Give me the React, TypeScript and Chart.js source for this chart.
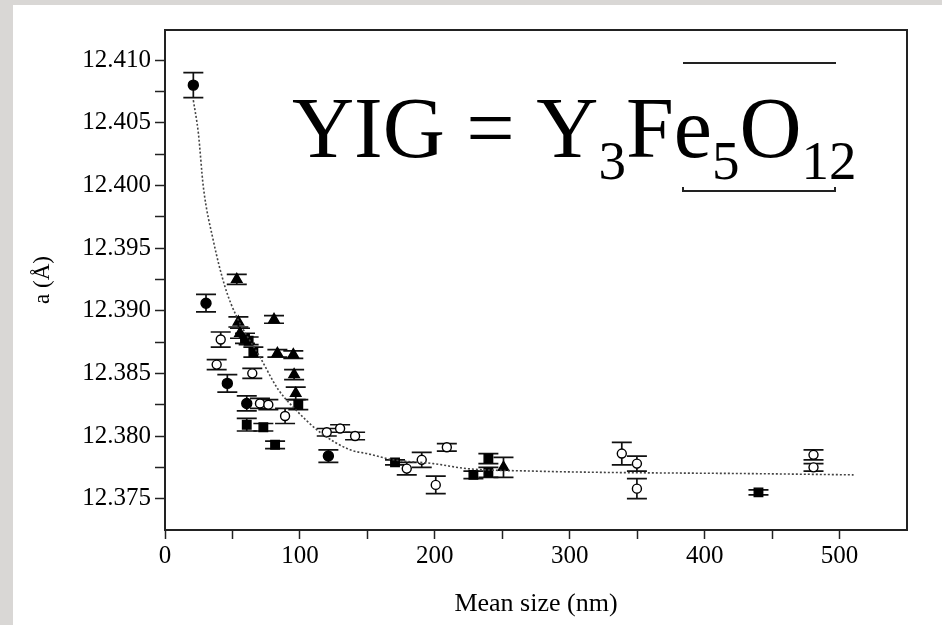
import React, { useEffect, useRef } from 'react';
import { Chart, registerables } from 'chart.js';
Chart.register(...registerables);

// ---- Data ----
// Filled circles
const filledCircleX = [21.0, 30.4, 46.2, 60.6, 121.1];
const filledCircleY = [12.408, 12.3906, 12.3842, 12.3826, 12.3784];
const filledCircleErr = [0.001, 0.0007, 0.0007, 0.0006, 0.0005];

// Filled triangles
const triangleX = [53.2, 54.4, 80.8, 55.6, 83.3, 95.1, 95.7, 96.9, 250.9];
const triangleY = [12.3925, 12.3891, 12.3893, 12.3882, 12.3866, 12.3865, 12.3849, 12.3834, 12.3775];
const triangleErr = [0.0004, 0.0004, 0.0003, 0.0004, 0.0003, 0.0003, 0.0004, 0.0005, 0.0008];

// Filled squares
const squareX = [59.3, 62.0, 65.5, 98.8, 60.6, 72.9, 81.6, 170.5, 228.6, 239.7, 239.7, 439.9];
const squareY = [12.3878, 12.3876, 12.3867, 12.3825, 12.3809, 12.3807, 12.3793, 12.3779, 12.3769, 12.3782, 12.3771, 12.3755];
const squareErr = [0.0004, 0.0003, 0.0004, 0.0004, 0.0005, 0.0003, 0.0003, 0.0002, 0.0003, 0.0004, 0.0004, 0.0002];

// Open circles
const openCircleX = [41.3, 38.3, 64.7, 70.4, 76.6, 89.0, 119.9, 129.8, 140.9, 179.2, 190.3, 208.9, 200.7, 338.6, 349.8, 349.8, 480.7, 480.7];
const openCircleY = [12.3877, 12.3857, 12.385, 12.3826, 12.3825, 12.3816, 12.3803, 12.3806, 12.38, 12.3774, 12.3781, 12.3791, 12.3761, 12.3786, 12.3778, 12.3758, 12.3785, 12.3775];
const openCircleErr = [0.0006, 0.0004, 0.0004, 0.0004, 0.0004, 0.0006, 0.0003, 0.0003, 0.0003, 0.0005, 0.0006, 0.0003, 0.0007, 0.0009, 0.0006, 0.0008, 0.0004, 0.0003];

// Fitted curve (dotted)
const fitX = [21.0, 24.7, 28.4, 35.8, 44.5, 53.2, 70.4, 84.0, 95.1, 114.9, 137.2, 149.6, 169.3, 199.0, 223.7, 273.1, 322.6, 433.8, 510.4];
const fitY = [12.4068, 12.4042, 12.3999, 12.3956, 12.3919, 12.3895, 12.3863, 12.3837, 12.3823, 12.3803, 12.3789, 12.3786, 12.3781, 12.3778, 12.3774, 12.3772, 12.3771, 12.377, 12.3769];

// Axis ticks
const xTickValues = [0, 50, 100, 150, 200, 250, 300, 350, 400, 450, 500];
const xTickLabels = ['0', '', '100', '', '200', '', '300', '', '400', '', '500'];
const yTickValues = [12.375, 12.3775, 12.38, 12.3825, 12.385, 12.3875, 12.39, 12.3925, 12.395, 12.3975, 12.4, 12.4025, 12.405, 12.4075, 12.41];
const yTickLabels = ['12.375', '', '12.380', '', '12.385', '', '12.390', '', '12.395', '', '12.400', '', '12.405', '', '12.410'];

const xTitle = 'Mean size (nm)';
const yTitle = 'a (Å)';

const zip = (xs: number[], ys: number[]) => xs.map((x, i) => ({ x, y: ys[i] }));

const SERIF = '"Liberation Serif", "Times New Roman", serif';

const errorBarPlugin = {
  id: 'errorBars',
  beforeDatasetsDraw(chart: any) {
    const { ctx } = chart;
    const xs = chart.scales.x;
    const ys = chart.scales.y;
    ctx.save();
    ctx.strokeStyle = '#111';
    ctx.lineWidth = 1.7;
    chart.data.datasets.forEach((ds: any) => {
      const errs: number[] | undefined = ds.errors;
      if (!errs) return;
      ds.data.forEach((p: any, j: number) => {
        const px = xs.getPixelForValue(p.x);
        const y1 = ys.getPixelForValue(p.y + errs[j]);
        const y2 = ys.getPixelForValue(p.y - errs[j]);
        ctx.beginPath();
        ctx.moveTo(px, y1);
        ctx.lineTo(px, y2);
        ctx.moveTo(px - 10, y1);
        ctx.lineTo(px + 10, y1);
        ctx.moveTo(px - 10, y2);
        ctx.lineTo(px + 10, y2);
        ctx.stroke();
      });
    });
    ctx.restore();
  },
};

const framePlugin = {
  id: 'frameAndLabel',
  afterDraw(chart: any) {
    const { ctx, chartArea: a } = chart;
    ctx.save();
    ctx.strokeStyle = '#222';
    ctx.lineWidth = 2;
    ctx.strokeRect(a.left, a.top, a.right - a.left, a.bottom - a.top);

    // Formula annotation
    ctx.fillStyle = '#000';
    ctx.textBaseline = 'alphabetic';
    const big = '86px ' + SERIF;
    const small = '55px ' + SERIF;
    let x = a.left + 127;
    const base = a.top + 127;
    const parts: [string, boolean][] = [
      ['YIG = Y', false],
      ['3', true],
      ['Fe', false],
      ['5', true],
      ['O', false],
      ['12', true],
    ];
    for (const [t, sub] of parts) {
      ctx.font = sub ? small : big;
      ctx.fillText(t, x, sub ? base + 22 : base);
      x += ctx.measureText(t).width;
    }

    // Remnant legend lines
    ctx.strokeStyle = '#222';
    ctx.lineWidth = 2;
    ctx.beginPath();
    ctx.moveTo(a.left + 518, a.top + 33);
    ctx.lineTo(a.left + 671, a.top + 33);
    ctx.stroke();
    ctx.beginPath();
    ctx.moveTo(a.left + 518, a.top + 157);
    ctx.lineTo(a.left + 518, a.top + 161);
    ctx.lineTo(a.left + 670, a.top + 161);
    ctx.lineTo(a.left + 670, a.top + 157);
    ctx.stroke();
    ctx.restore();
  },
};

export default function App() {
  const ref = useRef<HTMLCanvasElement>(null);

  useEffect(() => {
    if (!ref.current) return;
    const markerBase = {
      showLine: false,
      borderColor: '#000',
      borderWidth: 1.4,
    };
    const chart = new Chart(ref.current, {
      type: 'scatter',
      data: {
        datasets: [
          {
            label: 'fit',
            data: zip(fitX, fitY),
            showLine: true,
            pointRadius: 0,
            borderColor: '#444',
            borderWidth: 1.6,
            borderDash: [2, 2],
            cubicInterpolationMode: 'monotone',
            fill: false,
          } as any,
          {
            ...markerBase,
            label: 'filled circle',
            data: zip(filledCircleX, filledCircleY),
            errors: filledCircleErr,
            pointStyle: 'circle',
            pointRadius: 5,
            backgroundColor: '#000',
          } as any,
          {
            ...markerBase,
            label: 'triangle',
            data: zip(triangleX, triangleY),
            errors: triangleErr,
            pointStyle: 'triangle',
            pointRadius: 6,
            backgroundColor: '#000',
          } as any,
          {
            ...markerBase,
            label: 'square',
            data: zip(squareX, squareY),
            errors: squareErr,
            pointStyle: 'rect',
            pointRadius: 6,
            backgroundColor: '#000',
          } as any,
          {
            ...markerBase,
            label: 'open circle',
            data: zip(openCircleX, openCircleY),
            errors: openCircleErr,
            pointStyle: 'circle',
            pointRadius: 4.5,
            backgroundColor: '#fff',
          } as any,
        ],
      },
      options: {
        animation: false,
        responsive: true,
        maintainAspectRatio: false,
        layout: { padding: { left: 0, right: 35, top: 25, bottom: 0 } },
        plugins: { legend: { display: false }, tooltip: { enabled: false } },
        scales: {
          x: {
            type: 'linear',
            min: 0,
            max: 550,
            afterFit: (s: any) => {
              s.height = 95;
            },
            afterBuildTicks: (s: any) => {
              s.ticks = xTickValues.map((v) => ({ value: v }));
            },
            ticks: {
              autoSkip: false,
              maxRotation: 0,
              padding: 2,
              color: '#000',
              font: { family: SERIF, size: 25 },
              callback: (v: any) => {
                const i = xTickValues.indexOf(Number(v));
                return i >= 0 ? xTickLabels[i] : '';
              },
            },
            grid: {
              drawOnChartArea: false,
              drawTicks: true,
              tickLength: 9,
              tickColor: '#222',
              tickWidth: 1.5,
            },
            border: { display: true, color: '#222', width: 2 },
            title: {
              display: true,
              text: xTitle,
              color: '#000',
              font: { family: SERIF, size: 26 },
              padding: { top: 0, bottom: 5 },
            },
          },
          y: {
            type: 'linear',
            min: 12.3725,
            max: 12.4124,
            afterFit: (s: any) => {
              s.width = 152;
            },
            afterBuildTicks: (s: any) => {
              s.ticks = yTickValues.map((v) => ({ value: v }));
            },
            ticks: {
              autoSkip: false,
              padding: 4,
              color: '#000',
              font: { family: SERIF, size: 25 },
              callback: (v: any) => {
                const i = yTickValues.findIndex((t) => Math.abs(t - Number(v)) < 1e-7);
                return i >= 0 ? yTickLabels[i] : '';
              },
            },
            grid: {
              drawOnChartArea: false,
              drawTicks: true,
              tickLength: 10,
              tickColor: '#222',
              tickWidth: 1.5,
            },
            border: { display: true, color: '#222', width: 2 },
            title: {
              display: true,
              text: yTitle,
              color: '#000',
              font: { family: SERIF, size: 23 },
              padding: { top: 16, bottom: 0 },
            },
          },
        },
      } as any,
      plugins: [errorBarPlugin, framePlugin],
    });
    return () => chart.destroy();
  }, []);

  return (
    <div
      style={{
        position: 'fixed',
        left: 0,
        top: 0,
        width: 942,
        height: 625,
        background: '#d9d7d5',
      }}
    >
      <div
        style={{
          position: 'absolute',
          left: 13,
          top: 5,
          width: 929,
          height: 620,
          background: '#fff',
        }}
      >
        <canvas ref={ref} />
      </div>
    </div>
  );
}
